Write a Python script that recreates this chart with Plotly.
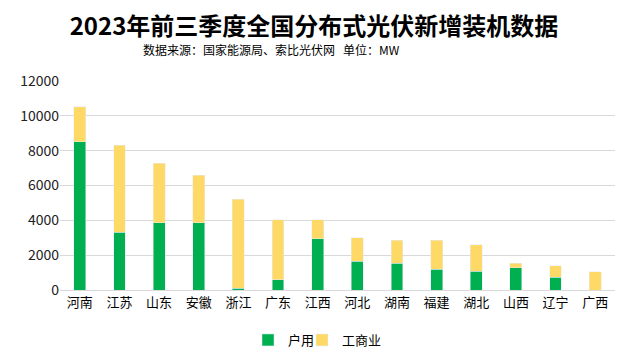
import plotly.graph_objects as go

provinces = ["河南", "江苏", "山东", "安徽", "浙江", "广东", "江西", "河北", "湖南", "福建", "湖北", "山西", "辽宁", "广西"]
household = [8500, 3330, 3850, 3850, 115, 575, 2930, 1665, 1550, 1205, 1090, 1265, 745, 0]
commercial_total = [10510, 8325, 7290, 6600, 5225, 4020, 4020, 2990, 2870, 2870, 2585, 1550, 1380, 1035]
commercial = [t - h for t, h in zip(commercial_total, household)]

font_family = "Noto Sans CJK SC, Microsoft YaHei, sans-serif"

# page body has an 8px margin, so the figure is drawn at (8, 8)
W, H = 626, 356
off = 8
plot_left, plot_right, plot_top, plot_bottom = 60 - off, 615 - off, 81 - off, 290 - off

fig = go.Figure()
fig.add_trace(go.Bar(x=provinces, y=household, name="户用", marker_color="#00B050", legend="legend"))
fig.add_trace(go.Bar(x=provinces, y=commercial, name="工商业", marker_color="#FFD966", legend="legend2"))

legend_style = dict(orientation="h", xanchor="left", xref="container",
                    y=1 - (340 - off) / H, yanchor="middle", yref="container",
                    font=dict(size=13, color="black"), itemwidth=30,
                    bgcolor="rgba(0,0,0,0)")

fig.update_layout(
    barmode="stack",
    bargap=0.7,
    width=W, height=H,
    margin=dict(l=plot_left, r=W - plot_right, t=plot_top, b=H - plot_bottom, autoexpand=False),
    paper_bgcolor="white", plot_bgcolor="white",
    font=dict(family=font_family, size=13, color="#222222"),
    title=dict(
        text="<b>2023年前三季度全国分布式光伏新增装机数据</b>",
        x=(314 - off) / W, xanchor="center", xref="container",
        y=1 - (27 - off) / H, yanchor="middle", yref="container",
        font=dict(size=24, color="black", family=font_family),
    ),
    legend=dict(legend_style, x=(248 - off) / W),
    legend2=dict(legend_style, x=(302 - off) / W),
    showlegend=True,
    annotations=[dict(text="数据来源：国家能源局、索比光伏网   单位：MW",
                      x=(263 - plot_left) / (plot_right - plot_left), xref="paper",
                      y=(plot_bottom - (49 - off)) / (plot_bottom - plot_top), yref="paper",
                      yanchor="middle", showarrow=False,
                      font=dict(size=12, color="black"))],
)
fig.update_yaxes(range=[0, 12000], dtick=2000, showgrid=True, gridcolor="#D9D9D9", gridwidth=1,
                 zeroline=False, showline=False, ticks="", tickformat="d",
                 tickfont=dict(size=14, color="#222222"))
fig.update_xaxes(showline=True, linecolor="#D9D9D9", linewidth=1, ticks="",
                 tickfont=dict(size=13, color="black"))

fig.write_html("out.html")
